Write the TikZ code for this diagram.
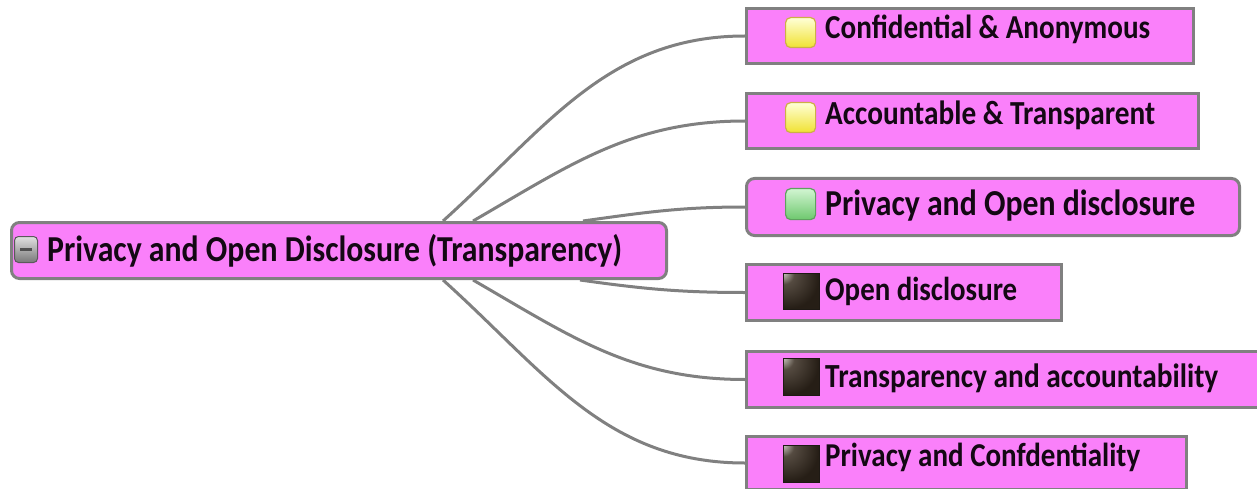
\documentclass[tikz,border=0pt]{standalone}
\usepackage{fontspec}
\setmainfont{Carlito}
\usepackage{graphicx}
\definecolor{pinkfill}{RGB}{250,128,250}
\definecolor{edgegray}{RGB}{128,128,128}
\definecolor{txt}{RGB}{20,8,20}
\definecolor{yedge}{RGB}{205,175,70}
\definecolor{ytop}{RGB}{255,255,215}
\definecolor{ybot}{RGB}{240,225,50}
\definecolor{gedge}{RGB}{95,160,95}
\definecolor{gtop}{RGB}{210,245,210}
\definecolor{gbot}{RGB}{110,200,110}
\definecolor{dedge}{RGB}{30,25,20}
\definecolor{dtop}{RGB}{225,222,215}
\definecolor{dmid}{RGB}{85,75,65}
\definecolor{dbot}{RGB}{38,30,22}
\definecolor{medge}{RGB}{90,90,90}
\definecolor{mtop}{RGB}{225,225,225}
\definecolor{mbot}{RGB}{120,120,120}
\definecolor{mminus}{RGB}{80,80,80}
\pgfdeclareradialshading{cornerglow}{\pgfpoint{-28bp}{28bp}}{color(0bp)=(dtop); color(14bp)=(dmid); color(40bp)=(dbot); color(100bp)=(dbot)}
\newcommand\fitw[2]{\scalebox{1}[1.15]{\resizebox{#1}{!}{\fontsize{30}{36}\selectfont\bfseries #2}}}
\begin{document}
\begin{tikzpicture}[x=1pt,y=-1pt,
  boxnode/.style={draw=edgegray, line width=3pt, fill=pinkfill, anchor=north west, inner sep=0pt},
  roundbox/.style={boxnode, rounded corners=8pt},
  lbl/.style={anchor=base west, inner sep=0pt, text=txt},
  link/.style={draw=edgegray, line width=3pt},
  iconbase/.style={anchor=north west, inner sep=0pt},
  yicon/.style={iconbase, draw=yedge, line width=1.2pt, rounded corners=5pt, top color=ytop, bottom color=ybot},
  gicon/.style={iconbase, draw=gedge, line width=1.2pt, rounded corners=5pt, top color=gtop, bottom color=gbot},
  dicon/.style={iconbase, draw=dedge, line width=0.8pt, shade, shading=cornerglow}
]
\useasboundingbox (0,0) rectangle (1257,489);

% main node
\node[roundbox, minimum width=655pt, minimum height=56pt] (main) at (10,221) {};
\node[iconbase, draw=medge, line width=1pt, rounded corners=4pt, top color=mtop, bottom color=mbot, minimum width=23pt, minimum height=26pt] (mainicon) at (14,236) {};
\draw[line width=2.5pt, draw=mminus] ([xshift=-6pt]mainicon.center) -- ([xshift=6pt]mainicon.center);
\node[lbl] (maintext) at (47,261) {\fitw{575pt}{Privacy and Open Disclosure (Transparency)}};

% children
\node[boxnode, minimum width=447pt, minimum height=55pt] (c1) at (745,7) {};
\node[boxnode, minimum width=452pt, minimum height=55pt] (c2) at (745,92) {};
\node[roundbox, minimum width=493pt, minimum height=57pt] (c3) at (745,177) {};
\node[boxnode, minimum width=315pt, minimum height=56pt] (c4) at (745,263) {};
\node[boxnode, minimum width=515pt, minimum height=56pt] (c5) at (745,350) {};
\node[boxnode, minimum width=440pt, minimum height=53pt] (c6) at (745,435) {};

% icons
\node[yicon, minimum width=30pt, minimum height=30pt] (i1) at (785,17) {};
\node[yicon, minimum width=30pt, minimum height=30pt] (i2) at (785,102) {};
\node[gicon, minimum width=30pt, minimum height=31pt] (i3) at (785,188) {};
\node[dicon, minimum width=36pt, minimum height=36pt] (i4) at (783,273) {};
\node[dicon, minimum width=36pt, minimum height=37pt] (i5) at (783,358) {};
\node[dicon, minimum width=36pt, minimum height=37pt] (i6) at (783,445) {};

% labels
\node[lbl] (t1) at (825,39) {\fitw{325pt}{Confidential \& Anonymous}};
\node[lbl] (t2) at (825,125) {\fitw{330pt}{Accountable \& Transparent}};
\node[lbl] (t3) at (825,215) {\fitw{370pt}{Privacy and Open disclosure}};
\node[lbl] (t4) at (825,300) {\fitw{192pt}{Open disclosure}};
\node[lbl] (t5) at (825,387) {\fitw{393pt}{Transparency and accountability}};
\node[lbl] (t6) at (825,466) {\fitw{315pt}{Privacy and Confdentiality}};

% connectors
\draw[link] ([xshift=433pt]main.north west) to[out=42,in=180] (c1.west);
\draw[link] ([xshift=463pt]main.north west) to[out=30,in=180] (c2.west);
\draw[link] ([xshift=573pt]main.north west) to[out=8,in=180] (c3.west);
\draw[link] ([xshift=570pt]main.south west) to[out=-8,in=180] (c4.west);
\draw[link] ([xshift=463pt]main.south west) to[out=-30,in=180] (c5.west);
\draw[link] ([xshift=433pt]main.south west) to[out=-42,in=180] (c6.west);
\end{tikzpicture}
\end{document}
